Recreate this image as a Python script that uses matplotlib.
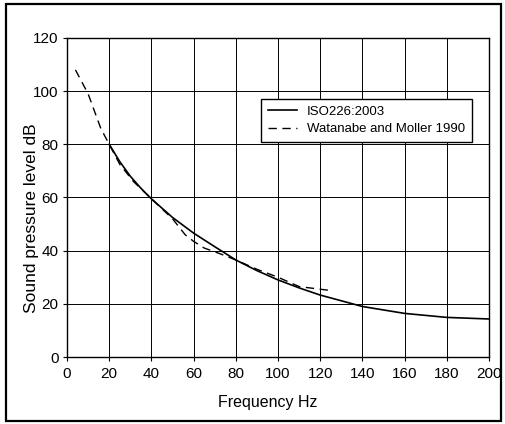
import matplotlib
matplotlib.use('Agg')
import matplotlib.pyplot as plt
from matplotlib.patches import Rectangle

plt.rcParams['font.family'] = ['Liberation Sans', 'DejaVu Sans']

# ISO226:2003 curve
iso_hz = [20, 25, 30, 35, 40, 50, 60, 70, 80, 90, 100, 110, 120, 140, 160, 180, 200]
iso_db = [80, 73.5, 68, 63.5, 59.5, 52.5, 46.6, 41.5, 36.5, 32.5, 29, 26, 23.3, 19, 16.4, 14.9, 14.3]

# Watanabe and Moller 1990
wm_hz = [4, 10, 16, 20, 25, 31.5, 40, 46, 50, 56, 60, 65, 72, 80, 90, 100, 110, 125]
wm_db = [108, 99, 86, 80, 72.5, 66, 59.5, 55, 52, 46, 43.5, 41, 39, 36.5, 33, 30, 26.5, 25]

fig = plt.figure(figsize=(5.05, 4.24), dpi=100)
ax = fig.add_axes([0.1327, 0.158, 0.8356, 0.7524])

ax.plot(iso_hz, iso_db, color='black', lw=1.2, label='ISO226:2003')
ax.plot(wm_hz, wm_db, color='black', lw=1.0, ls=(0, (6, 4)), label='Watanabe and Moller 1990')

ax.set_xlim(0, 200)
ax.set_ylim(0, 120)
ax.set_xticks(range(0, 201, 20))
ax.set_yticks(range(0, 121, 20))
ax.grid(True, color='black', lw=0.7)
ax.tick_params(labelsize=11, length=3, width=0.8, pad=3)
ax.tick_params(axis='x', pad=4.5)
for s in ax.spines.values():
    s.set_linewidth(1.0)

ax.set_xlabel('Frequency Hz', fontsize=11.5)
ax.xaxis.set_label_coords(0.475, -0.118)
ax.set_ylabel('Sound pressure level dB', fontsize=12.5)
ax.yaxis.set_label_coords(-0.066, 0.436)

leg = ax.legend(loc='upper right', bbox_to_anchor=(0.975, 0.83), fontsize=9.5,
                frameon=True, fancybox=False, edgecolor='black', framealpha=1,
                handlelength=2.2, borderpad=0.5, labelspacing=0.4)
leg.get_frame().set_linewidth(1.0)

# outer frame
fig.patches.append(Rectangle((0.012, 0.007), 0.98, 0.983, transform=fig.transFigure,
                             fill=False, edgecolor='black', lw=1.6))

fig.savefig('out.png', dpi=100)
